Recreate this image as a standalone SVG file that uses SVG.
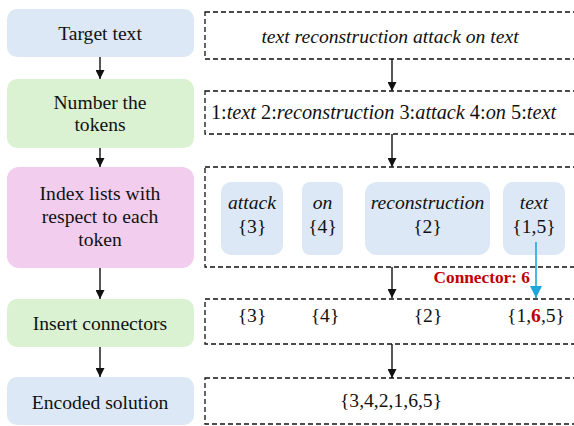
<svg xmlns="http://www.w3.org/2000/svg" width="574" height="426" viewBox="0 0 574 426">
<style>
.t{font-family:'Liberation Serif','Times New Roman',serif;font-size:19.6px;fill:#111;text-anchor:middle}
.i{font-style:italic}
.blue{fill:#dce8f5}
.green{fill:#daf2d2}
.pink{fill:#f2cdee}
.dash{fill:none;stroke:#111;stroke-width:1.3;stroke-dasharray:5,3}
.ar{stroke:#111;stroke-width:1.4;fill:none}
.red{fill:#c00000;font-weight:bold}
</style>
<defs>
<marker id="ah" viewBox="0 0 10 10" refX="10" refY="5" markerWidth="9" markerHeight="9" markerUnits="userSpaceOnUse" orient="auto"><path d="M0,0 L10,5 L0,10 z" fill="#111"/></marker>
<marker id="ahb" viewBox="0 0 10 10" refX="10" refY="5" markerWidth="12" markerHeight="12" markerUnits="userSpaceOnUse" orient="auto"><path d="M0,0 L10,5 L0,10 z" fill="#1ea6dc"/></marker>
</defs>
<g id="step1"><rect class="blue" x="7" y="9" width="187" height="48" rx="10"/><text class="t" x="100" y="40">Target text</text></g>
<g id="step2"><rect class="green" x="7" y="79" width="187" height="69" rx="10"/><text class="t" x="100" y="109">Number the</text><text class="t" x="100" y="131">tokens</text></g>
<g id="step3"><rect class="pink" x="7" y="167" width="187" height="101" rx="12"/><text class="t" x="100" y="200">Index lists with</text><text class="t" x="100" y="223">respect to each</text><text class="t" x="100" y="246">token</text></g>
<g id="step4"><rect class="green" x="7" y="299" width="187" height="48" rx="10"/><text class="t" x="100" y="330">Insert connectors</text></g>
<g id="step5"><rect class="blue" x="7" y="377" width="187" height="48" rx="10"/><text class="t" x="100" y="409">Encoded solution</text></g>

<g id="d1"><rect class="dash" x="205" y="12" width="375" height="47"/><text class="t i" x="390" y="43">text reconstruction attack on text</text></g>
<g id="d2"><rect class="dash" x="205" y="91" width="375" height="43"/><text class="t" x="383.5" y="119" style="font-size:20.3px">1:<tspan class="i">text</tspan> 2:<tspan class="i">reconstruction</tspan> 3:<tspan class="i">attack</tspan> 4:<tspan class="i">on</tspan> 5:<tspan class="i">text</tspan></text></g>
<g id="d3"><rect class="dash" x="205" y="167" width="375" height="100"/>
<g id="tok-attack"><rect class="blue" x="221" y="182" width="62" height="73" rx="10"/><text class="t i" x="252" y="209">attack</text><text class="t" x="252" y="233">{3}</text></g>
<g id="tok-on"><rect class="blue" x="302" y="182" width="41" height="73" rx="8"/><text class="t i" x="322.5" y="209">on</text><text class="t" x="322.5" y="233">{4}</text></g>
<g id="tok-reconstruction"><rect class="blue" x="365" y="182" width="125" height="73" rx="12"/><text class="t i" x="427.5" y="209">reconstruction</text><text class="t" x="427.5" y="233">{2}</text></g>
<g id="tok-text"><rect class="blue" x="503" y="182" width="62" height="73" rx="10"/><text class="t i" x="534" y="209">text</text><text class="t" x="534" y="233">{1,5}</text></g>
</g>
<g id="d4"><rect class="dash" x="205" y="299" width="375" height="45"/>
<text class="t" x="252" y="322">{3}</text><text class="t" x="325" y="322">{4}</text><text class="t" x="428" y="322">{2}</text><text class="t" x="536" y="322">{1,<tspan class="red">6</tspan>,5}</text></g>
<g id="d5"><rect class="dash" x="205" y="378" width="375" height="46"/><text class="t" x="391" y="407">{3,4,2,1,6,5}</text></g>

<g id="connectors">
<line class="ar" x1="100" y1="57" x2="100" y2="79" marker-end="url(#ah)"/>
<line class="ar" x1="100" y1="148" x2="100" y2="167" marker-end="url(#ah)"/>
<line class="ar" x1="100" y1="268" x2="100" y2="299" marker-end="url(#ah)"/>
<line class="ar" x1="100" y1="347" x2="100" y2="377" marker-end="url(#ah)"/>
<line class="ar" x1="392" y1="59" x2="392" y2="91" marker-end="url(#ah)"/>
<line class="ar" x1="392" y1="134" x2="392" y2="167" marker-end="url(#ah)"/>
<line class="ar" x1="392" y1="267" x2="392" y2="298" marker-end="url(#ah)"/>
<line class="ar" x1="392" y1="344" x2="392" y2="378" marker-end="url(#ah)"/>
<line x1="536" y1="242" x2="536" y2="298" stroke="#1ea6dc" stroke-width="1.6" marker-end="url(#ahb)"/>
<text class="t red" x="530" y="283" style="text-anchor:end;font-size:17.3px">Connector: 6</text>
</g>
</svg>
